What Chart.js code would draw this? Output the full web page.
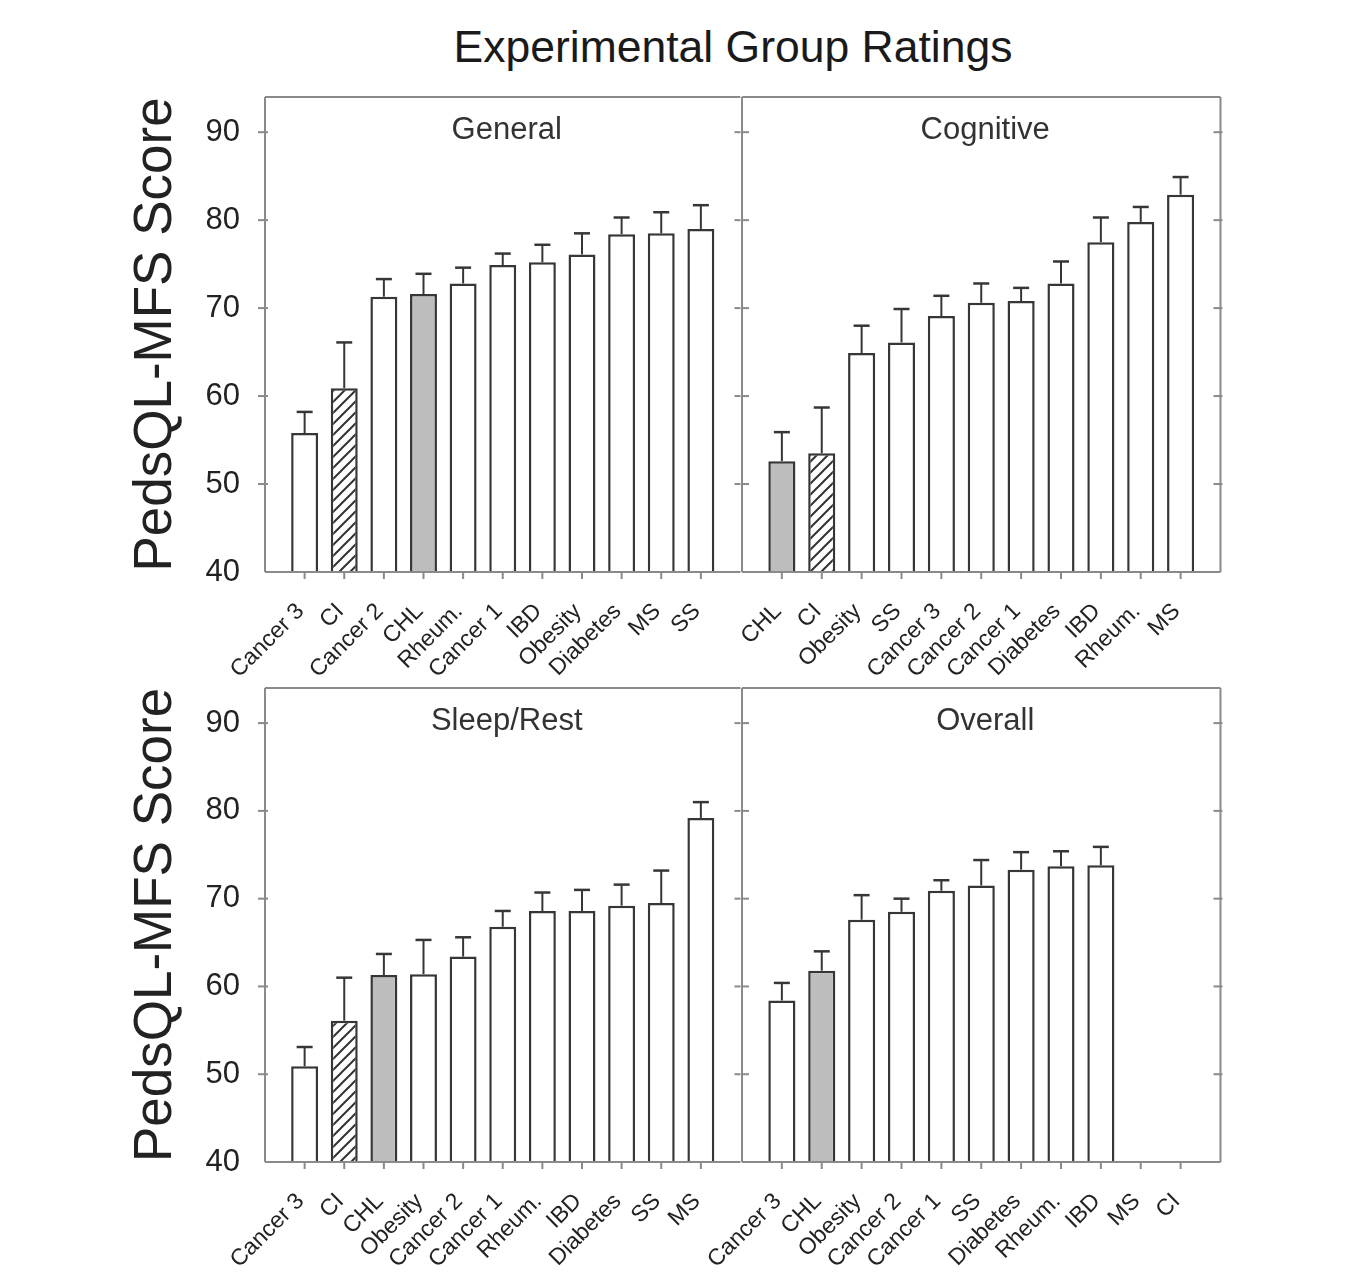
<!DOCTYPE html>
<html>
<head>
<meta charset="utf-8">
<script src="https://cdn.jsdelivr.net/npm/chart.js@4.4.1/dist/chart.umd.min.js"></script>
<style>
  html, body { margin: 0; padding: 0; background: #fff; }
  body { width: 1367px; height: 1284px; position: relative; overflow: hidden; font-family: "Liberation Sans", Arial, sans-serif; }
  #title { position: absolute; left: 333px; width: 800px; top: 25px; text-align: center; font-size: 44.5px; line-height: 44px; color: #1a1a1a; }
  canvas { position: absolute; }
</style>
</head>
<body>
<div id="title">Experimental Group Ratings</div>
<canvas id="general" width="786" height="640" style="left:0px; top:53px;"></canvas>
<canvas id="cognitive" width="586" height="640" style="left:680px; top:53px;"></canvas>
<canvas id="sleep" width="786" height="640" style="left:0px; top:644px;"></canvas>
<canvas id="overall" width="586" height="640" style="left:680px; top:644px;"></canvas>
<script>
const yMin = 40;
const yMax = 94;
const yTicks = [40, 50, 60, 70, 80, 90];

const generalGroups = ['Cancer 3', 'CI', 'Cancer 2', 'CHL', 'Rheum.', 'Cancer 1', 'IBD', 'Obesity', 'Diabetes', 'MS', 'SS'];
const generalMeans  = [55.8, 60.9, 71.3, 71.6, 72.8, 74.9, 75.2, 76.1, 78.4, 78.5, 79.0];
const generalErrors = [2.4, 5.2, 2.0, 2.3, 1.8, 1.3, 2.0, 2.4, 1.9, 2.4, 2.7];

const cognitiveGroups = ['CHL', 'CI', 'Obesity', 'SS', 'Cancer 3', 'Cancer 2', 'Cancer 1', 'Diabetes', 'IBD', 'Rheum.', 'MS'];
const cognitiveMeans  = [52.6, 53.5, 64.9, 66.1, 69.1, 70.6, 70.8, 72.8, 77.5, 79.8, 82.9];
const cognitiveErrors = [3.3, 5.2, 3.1, 3.8, 2.3, 2.2, 1.5, 2.5, 2.8, 1.7, 2.0];

const sleepGroups = ['Cancer 3', 'CI', 'CHL', 'Obesity', 'Cancer 2', 'Cancer 1', 'Rheum.', 'IBD', 'Diabetes', 'SS', 'MS'];
const sleepMeans  = [50.9, 56.1, 61.3, 61.4, 63.4, 66.8, 68.6, 68.6, 69.2, 69.5, 79.2];
const sleepErrors = [2.2, 4.9, 2.4, 3.9, 2.2, 1.8, 2.1, 2.4, 2.4, 3.7, 1.8];

const overallGroups = ['Cancer 3', 'CHL', 'Obesity', 'Cancer 2', 'Cancer 1', 'SS', 'Diabetes', 'Rheum.', 'IBD', 'MS', 'CI'];
const overallMeans  = [58.4, 61.8, 67.6, 68.5, 70.9, 71.5, 73.3, 73.7, 73.8, null, null];
const overallErrors = [2.0, 2.2, 2.8, 1.5, 1.2, 2.9, 2.0, 1.7, 2.1, null, null];

const fontFamily = '"Liberation Sans", Arial, sans-serif';
const textColor = '#222';
const barEdge = '#363636';
const frameColor = '#8a8a8a';
const grayFill = '#bdbdbd';

// "///" hatch used for the CI group
function makeHatch() {
    const s = 11;
    const c = document.createElement('canvas');
    c.width = s; c.height = s;
    const g = c.getContext('2d');
    g.fillStyle = '#fff';
    g.fillRect(0, 0, s, s);
    g.strokeStyle = '#333';
    g.lineWidth = 2;
    g.beginPath();
    g.moveTo(-2, s + 2); g.lineTo(s + 2, -2);
    g.moveTo(-2, 2); g.lineTo(2, -2);
    g.moveTo(s - 2, s + 2); g.lineTo(s + 2, s - 2);
    g.stroke();
    return g.createPattern(c, 'repeat');
}
const hatch = makeHatch();

const fillFor = (group) => group === 'CHL' ? grayFill : group === 'CI' ? hatch : '#ffffff';

function line(ctx, x1, y1, x2, y2) {
    ctx.beginPath();
    ctx.moveTo(x1, y1);
    ctx.lineTo(x2, y2);
    ctx.stroke();
}

function panelDecor(title, means, errors, side) {
    return {
        id: 'panelDecor',
        afterDatasetsDraw(chart) {
            const { ctx, chartArea: a, scales: { x, y } } = chart;
            const meta = chart.getDatasetMeta(0);
            ctx.save();

            // upper error bars
            ctx.strokeStyle = barEdge;
            meta.data.forEach((bar, i) => {
                const k = i - 1;
                if (k < 0 || k >= means.length || means[k] == null) return;
                const top = y.getPixelForValue(means[k] + errors[k]);
                ctx.lineWidth = 2;
                line(ctx, bar.x, bar.y, bar.x, top);
                ctx.lineWidth = 2.5;
                line(ctx, bar.x - 8, top, bar.x + 8, top);
            });

            // frame (the shared middle edge is drawn once, by the right panel)
            ctx.strokeStyle = frameColor;
            ctx.lineWidth = 2;
            line(ctx, a.left, a.top, a.right, a.top);
            line(ctx, a.left, a.bottom, a.right, a.bottom);
            line(ctx, a.left, a.top, a.left, a.bottom);
            if (side === 'right') line(ctx, a.right, a.top, a.right, a.bottom);

            // tick marks
            yTicks.forEach(v => {
                const py = y.getPixelForValue(v);
                if (v === yMin) return;
                if (side === 'left') {
                    line(ctx, a.left - 7, py, a.left + 3, py);
                    line(ctx, a.right - 6, py, a.right, py);
                } else {
                    line(ctx, a.left, py, a.left + 7, py);
                    line(ctx, a.right - 7, py, a.right + 2, py);
                }
            });
            chart.data.labels.forEach((lab, i) => {
                if (!lab) return;
                const px = x.getPixelForTick(i);
                line(ctx, px, a.bottom, px, a.bottom + 7);
            });

            // panel heading
            ctx.fillStyle = '#333';
            ctx.font = '31px ' + fontFamily;
            ctx.textAlign = 'center';
            ctx.textBaseline = 'middle';
            ctx.fillText(title, (a.left + a.right) / 2 + 4, a.top + 33);
            ctx.restore();
        }
    };
}

function makePanel(id, title, groups, means, errors, side, axisHeight) {
    const labels = ['', ...groups, ''];
    const values = [null, ...means, null];
    const ctx = document.getElementById(id).getContext('2d');
    return new Chart(ctx, {
        type: 'bar',
        data: {
            labels: labels,
            datasets: [{
                data: values,
                backgroundColor: labels.map(fillFor),
                borderColor: barEdge,
                borderWidth: 2.5,
                base: yMin,
                barPercentage: 0.68,
                categoryPercentage: 1,
            }]
        },
        options: {
            responsive: false,
            animation: false,
            devicePixelRatio: 1,
            layout: { padding: { top: 44, right: 44, left: 0, bottom: 0 } },
            scales: {
                x: {
                    offset: false,
                    grid: { display: false, drawTicks: false },
                    border: { display: false },
                    ticks: {
                        autoSkip: false,
                        minRotation: 45,
                        maxRotation: 45,
                        padding: 26,
                        labelOffset: -4,
                        color: textColor,
                        font: { size: 23, family: fontFamily }
                    },
                    afterFit: (s) => { s.height = axisHeight; }
                },
                y: {
                    min: yMin,
                    max: yMax,
                    grid: { display: false, drawTicks: false },
                    border: { display: false },
                    ticks: {
                        display: side === 'left',
                        stepSize: 10,
                        includeBounds: false,
                        padding: 25,
                        color: textColor,
                        font: { size: 31, family: fontFamily }
                    },
                    title: {
                        display: side === 'left',
                        text: 'PedsQL-MFS Score',
                        color: textColor,
                        font: { size: 53, family: fontFamily },
                        padding: { top: 125, bottom: 0 }
                    },
                    afterFit: (s) => { s.width = side === 'left' ? 265 : 62; }
                }
            },
            plugins: {
                legend: { display: false },
                tooltip: { enabled: false }
            }
        },
        plugins: [panelDecor(title, means, errors, side)]
    });
}

makePanel('general', 'General', generalGroups, generalMeans, generalErrors, 'left', 121);
makePanel('cognitive', 'Cognitive', cognitiveGroups, cognitiveMeans, cognitiveErrors, 'right', 121);
makePanel('sleep', 'Sleep/Rest', sleepGroups, sleepMeans, sleepErrors, 'left', 122);
makePanel('overall', 'Overall', overallGroups, overallMeans, overallErrors, 'right', 122);
</script>
</body>
</html>
